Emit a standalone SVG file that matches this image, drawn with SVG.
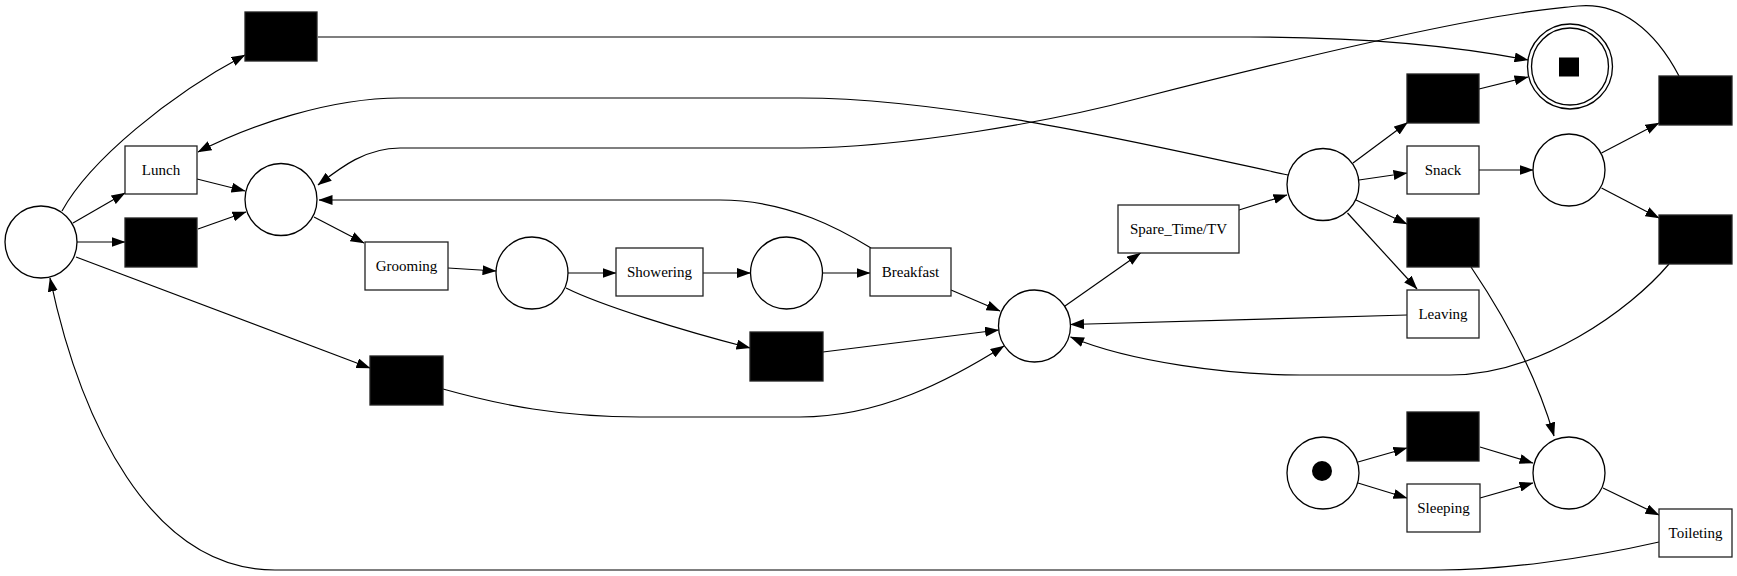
<svg xmlns="http://www.w3.org/2000/svg" width="1737" height="576" viewBox="0 0 1737 576">
<defs>
<style>
.pl{fill:#fff;stroke:#000;stroke-width:1.3}
.tr{fill:#fff;stroke:#222;stroke-width:1.3}
.bk{fill:#000;stroke:#222;stroke-width:1.3}
.e{fill:none;stroke:#000;stroke-width:1.2;marker-end:url(#ah)}
text{font-family:"Liberation Serif","Times New Roman",serif;font-size:15px;text-anchor:middle;fill:#000}
</style>
<marker id="ah" markerUnits="userSpaceOnUse" markerWidth="14" markerHeight="10" viewBox="0 0 14 10" refX="13.5" refY="5" orient="auto">
<path d="M0,0 L14,5 L0,10 z" fill="#000"/>
</marker>
</defs>
<rect width="1737" height="576" fill="#fff"/>
<g id="connectors">
<path class="e" d="M62,211 C90,160 170,95 245,55"/>
<path class="e" d="M73,223 L125,193"/>
<path class="e" d="M77,242 L125,242"/>
<path class="e" d="M76,257 L370,368"/>
<path class="e" d="M197,179 L245,191"/>
<path class="e" d="M198,229 L246,212"/>
<path class="e" d="M314,217 L364,243"/>
<path class="e" d="M448,268 L496,271"/>
<path class="e" d="M568,273 L616,273"/>
<path class="e" d="M566,288 C600,305 680,330 750,348"/>
<path class="e" d="M703,273 L750.5,273"/>
<path class="e" d="M822.5,273 L870,273"/>
<path class="e" d="M951,290 L1000,311"/>
<path class="e" d="M823,352 L998.5,330"/>
<path class="e" d="M443,389 C500,405 560,417 640,417 L800,417 C880,417 950,380 1004,346"/>
<path class="e" d="M1065,306 L1140.5,253"/>
<path class="e" d="M1239,210 L1287,195"/>
<path class="e" d="M1353,163 L1407.5,122.5"/>
<path class="e" d="M1359,180 L1407,173"/>
<path class="e" d="M1356,200 L1407,224"/>
<path class="e" d="M1347.5,213 L1417,289"/>
<path class="e" d="M1288,175 C1150,145 950,98 800,98 L400,98 C330,98 250,125 198,152"/>
<path class="e" d="M1679,76 C1655,30 1620,2 1578,6 C1560,8 1545,9 1520,13 C1420,28 1250,70 1140,98 C1050,122 900,148 800,148 L400,148 C365,148 340,168 318,185"/>
<path class="e" d="M871,248 C845,232 790,200 720,200 L319,200"/>
<path class="e" d="M318,37 L1250,37 C1350,37 1450,45 1528,60"/>
<path class="e" d="M1479,89 L1528,77"/>
<path class="e" d="M1479,170 L1533,170"/>
<path class="e" d="M1601.5,153 L1659,123"/>
<path class="e" d="M1601.5,188 L1659,218"/>
<path class="e" d="M1669,264 C1630,310 1540,375 1450,375 L1300,375 C1230,375 1130,362 1070.5,337"/>
<path class="e" d="M1407,315 L1070.5,324.5"/>
<path class="e" d="M1471,267 C1500,310 1535,370 1554,436"/>
<path class="e" d="M1358,462 L1407,448"/>
<path class="e" d="M1358,483 L1407,498"/>
<path class="e" d="M1480,447 L1533,463"/>
<path class="e" d="M1480,498 L1533,483"/>
<path class="e" d="M1603,488 L1659,515"/>
<path class="e" d="M1659,542 C1580,560 1500,570 1440,570 L275,570 C150,570 80,420 50,278"/>
</g>
<g id="p_start"><circle class="pl" cx="41" cy="242" r="36"/></g>
<g id="t_top"><rect class="bk" x="245" y="12" width="72" height="49"/></g>
<g id="t_lunch"><rect class="tr" x="125" y="146" width="72" height="48"/><text x="161" y="174.5">Lunch</text></g>
<g id="t_b2"><rect class="bk" x="125" y="218" width="72" height="49"/></g>
<g id="t_b3"><rect class="bk" x="370" y="356" width="73" height="49"/></g>
<g id="p1"><circle class="pl" cx="281" cy="199.5" r="36"/></g>
<g id="t_grooming"><rect class="tr" x="365" y="242" width="83" height="48"/><text x="406.5" y="270.5">Grooming</text></g>
<g id="p2"><circle class="pl" cx="532" cy="273" r="36"/></g>
<g id="t_showering"><rect class="tr" x="616" y="248" width="87" height="48"/><text x="659.5" y="276.5">Showering</text></g>
<g id="t_m"><rect class="bk" x="750" y="332" width="73" height="49"/></g>
<g id="p3"><circle class="pl" cx="786.5" cy="273" r="36"/></g>
<g id="t_breakfast"><rect class="tr" x="870" y="248" width="81" height="48"/><text x="910.5" y="276.5">Breakfast</text></g>
<g id="p_main"><circle class="pl" cx="1034.5" cy="326" r="36"/></g>
<g id="t_spare"><rect class="tr" x="1118" y="205" width="121" height="48"/><text x="1178.5" y="233.5">Spare_Time/TV</text></g>
<g id="p_spare"><circle class="pl" cx="1323" cy="184.5" r="36"/></g>
<g id="t_a"><rect class="bk" x="1407" y="74" width="72" height="49"/></g>
<g id="p_final"><circle class="pl" cx="1570" cy="66.5" r="42.5"/><circle class="pl" cx="1570" cy="66.5" r="38.5"/><rect x="1559" y="57.5" width="20" height="19" fill="#000"/></g>
<g id="t_snack"><rect class="tr" x="1407" y="146" width="72" height="48"/><text x="1443" y="174.5">Snack</text></g>
<g id="t_b"><rect class="bk" x="1407" y="218" width="72" height="49"/></g>
<g id="t_leaving"><rect class="tr" x="1407" y="290" width="72" height="48"/><text x="1443" y="318.5">Leaving</text></g>
<g id="p_snack"><circle class="pl" cx="1569" cy="170" r="36"/></g>
<g id="t_r1"><rect class="bk" x="1659" y="76" width="73" height="49"/></g>
<g id="t_r2"><rect class="bk" x="1659" y="215" width="73" height="49"/></g>
<g id="p_init"><circle class="pl" cx="1323" cy="473" r="36"/><circle cx="1322" cy="471" r="10" fill="#000"/></g>
<g id="t_s"><rect class="bk" x="1407" y="412" width="72" height="49"/></g>
<g id="t_sleeping"><rect class="tr" x="1407" y="484" width="73" height="48"/><text x="1443.5" y="512.5">Sleeping</text></g>
<g id="p_toilet"><circle class="pl" cx="1569" cy="473" r="36"/></g>
<g id="t_toileting"><rect class="tr" x="1659" y="509" width="73" height="48"/><text x="1695.5" y="537.5">Toileting</text></g>
</svg>
